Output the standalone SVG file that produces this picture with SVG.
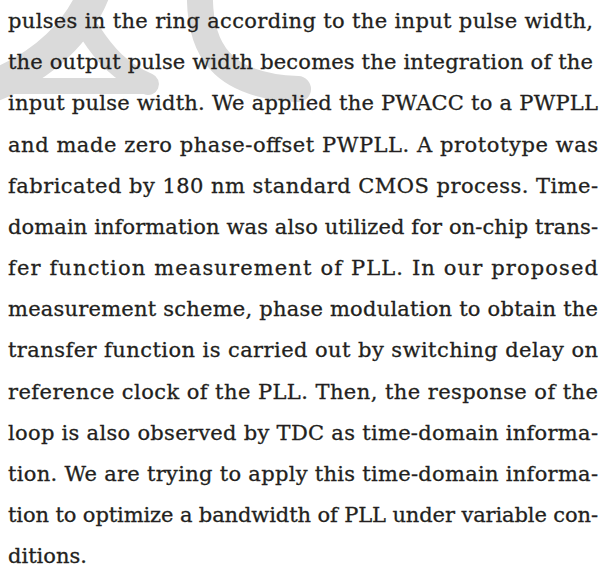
<svg xmlns="http://www.w3.org/2000/svg" width="601" height="571" viewBox="0 0 601 571">
<style>
.wm{fill:none;stroke:#dadada;stroke-linecap:round}
.t{font-family:"DejaVu Serif","Liberation Serif",serif;font-size:21px;fill:#231f20;stroke:#231f20;stroke-width:0.3}
</style>
<rect width="601" height="571" fill="#ffffff"/>
<g id="watermark">
<path class="wm" d="M95,-10 C80,30 45,66 -10,87" stroke-width="32"/>
<path class="wm" d="M90,32 C105,55 120,72 148,84" stroke-width="22"/>
<path class="wm" d="M-5,86 L150,86" stroke-width="16"/>
<path class="wm" d="M200,-10 C198,50 222,86 298,89" stroke-width="26"/>
</g>
<g id="text">
<text class="t" x="8" y="28" textLength="585" lengthAdjust="spacing">pulses in the ring according to the input pulse width,</text>
<text class="t" x="8" y="69" textLength="585" lengthAdjust="spacing">the output pulse width becomes the integration of the</text>
<text class="t" x="8" y="110" textLength="590" lengthAdjust="spacing">input pulse width. We applied the PWACC to a PWPLL</text>
<text class="t" x="8" y="151.5" textLength="590" lengthAdjust="spacing">and made zero phase-offset PWPLL. A prototype was</text>
<text class="t" x="8" y="192.6" textLength="590" lengthAdjust="spacing">fabricated by 180 nm standard CMOS process. Time-</text>
<text class="t" x="8" y="233.8" textLength="590" lengthAdjust="spacing">domain information was also utilized for on-chip trans-</text>
<text class="t" x="8" y="275" textLength="590" lengthAdjust="spacing">fer function measurement of PLL. In our proposed</text>
<text class="t" x="8" y="316" textLength="590" lengthAdjust="spacing">measurement scheme, phase modulation to obtain the</text>
<text class="t" x="8" y="357" textLength="590" lengthAdjust="spacing">transfer function is carried out by switching delay on</text>
<text class="t" x="8" y="398.5" textLength="590" lengthAdjust="spacing">reference clock of the PLL. Then, the response of the</text>
<text class="t" x="8" y="439.5" textLength="590" lengthAdjust="spacing">loop is also observed by TDC as time-domain informa-</text>
<text class="t" x="8" y="480.5" textLength="590" lengthAdjust="spacing">tion. We are trying to apply this time-domain informa-</text>
<text class="t" x="8" y="521.7" textLength="590" lengthAdjust="spacing">tion to optimize a bandwidth of PLL under variable con-</text>
<text class="t" x="8" y="563">ditions.</text>
</g>
</svg>
